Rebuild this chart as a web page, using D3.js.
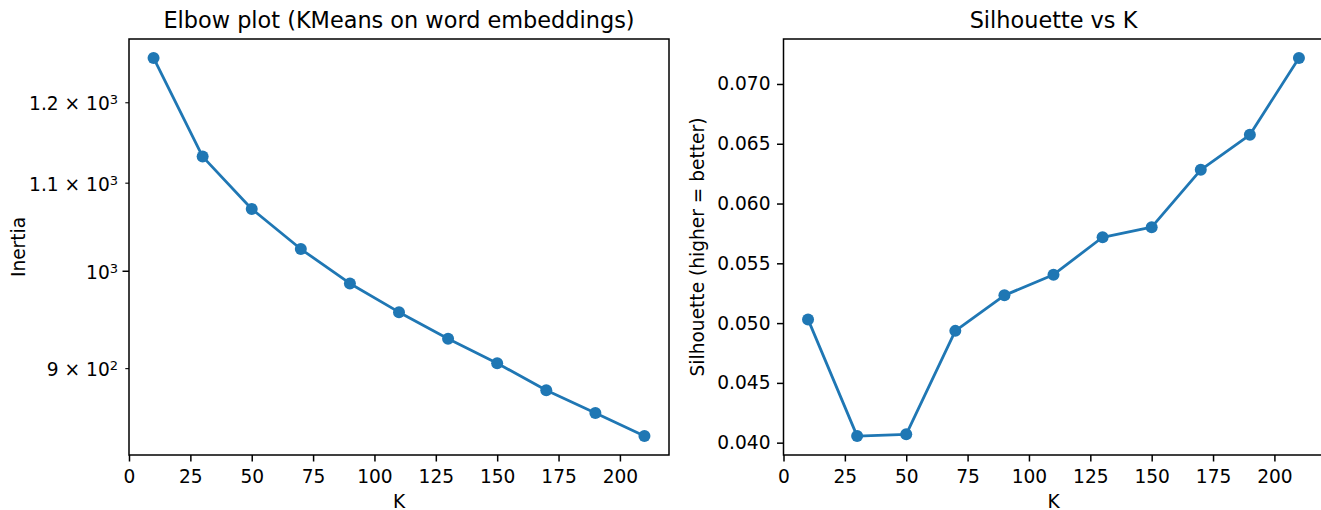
<!DOCTYPE html>
<html>
<head>
<meta charset="utf-8">
<script src="https://cdn.jsdelivr.net/npm/d3@7"></script>
<style>
body { margin: 0; background: #fff; }
svg { display: block; font-family: "DejaVu Sans", sans-serif; }
</style>
</head>
<body>
<svg id="viz"></svg>
<script>
// values
var ks = [10, 30, 50, 70, 90, 110, 130, 150, 170, 190, 210];
var inertia = [1259, 1131.5, 1069.2, 1023.8, 986.4, 956.2, 929.0, 904.8, 878.7, 857.3, 836.2];
var silhouette = [0.05031, 0.04055, 0.04070, 0.04935, 0.05232, 0.05405, 0.05718, 0.05802, 0.06282, 0.06575, 0.07218];

var kTicks = [0, 25, 50, 75, 100, 125, 150, 175, 200];
var inertiaTicks = [900, 1000, 1100, 1200];
var inertiaMajor = [1000];
var inertiaTickLabels = [["9 \u00d7 10", "2"], ["10", "3"], ["1.1 \u00d7 10", "3"], ["1.2 \u00d7 10", "3"]];
var silTicks = [0.040, 0.045, 0.050, 0.055, 0.060, 0.065, 0.070];

var width = 1321;
var height = 510;
var blue = "#1f77b4";
var fs = 18.6;

var svg = d3.select("#viz")
    .attr("width", width)
    .attr("height", height);

svg.append("rect")
    .attr("width", width)
    .attr("height", height)
    .attr("fill", "#fff");

var plotTop = 39, plotBottom = 455;

// x scales, matplotlib style 5% margin -> [0, 220]
var xLeft = d3.scaleLinear().domain([0, 220]).range([129, 669]);
var xRight = d3.scaleLinear().domain([0, 220]).range([783.5, 1323.5]);

// y scales with 5% margin
var lmin = Math.log10(d3.min(inertia)), lmax = Math.log10(d3.max(inertia));
var lpad = (lmax - lmin) * 0.05;
var yLeft = d3.scaleLog()
    .domain([Math.pow(10, lmin - lpad), Math.pow(10, lmax + lpad)])
    .range([plotBottom, plotTop]);

var smin = d3.min(silhouette), smax = d3.max(silhouette);
var spad = (smax - smin) * 0.05;
var yRight = d3.scaleLinear()
    .domain([smin - spad, smax + spad])
    .range([plotBottom, plotTop]);

function styleAxis(g) {
    g.select(".domain").remove();
    g.selectAll("line").attr("stroke", "#000").attr("stroke-width", 1.5);
    g.selectAll("text")
        .attr("fill", "#000")
        .style("font-size", fs + "px")
        .style("font-family", "DejaVu Sans");
}

function drawPanel(x, y, values, title, ylabel, ylabelX) {
    var g = svg.append("g");

    // x axis
    var xa = g.append("g")
        .attr("transform", "translate(0," + plotBottom + ")")
        .call(d3.axisBottom(x)
            .tickValues(kTicks)
            .tickSize(6.5)
            .tickPadding(6.5)
            .tickSizeOuter(0));
    styleAxis(xa);
    xa.selectAll("text").attr("dy", "0.78em");

    // line and markers
    var line = d3.line()
        .x(function (d, i) { return x(ks[i]); })
        .y(function (d) { return y(d); });

    g.append("path")
        .datum(values)
        .attr("d", line)
        .attr("fill", "none")
        .attr("stroke", blue)
        .attr("stroke-width", 2.8)
        .attr("stroke-linejoin", "round");

    g.selectAll("circle")
        .data(values)
        .enter().append("circle")
        .attr("cx", function (d, i) { return x(ks[i]); })
        .attr("cy", function (d) { return y(d); })
        .attr("r", 6)
        .attr("fill", blue);

    // frame
    g.append("rect")
        .attr("x", x.range()[0])
        .attr("y", plotTop)
        .attr("width", x.range()[1] - x.range()[0])
        .attr("height", plotBottom - plotTop)
        .attr("fill", "none")
        .attr("stroke", "#000")
        .attr("stroke-width", 1.5);

    // titles and labels
    var cx = (x.range()[0] + x.range()[1]) / 2;
    g.append("text")
        .attr("x", cx)
        .attr("y", 28)
        .attr("text-anchor", "middle")
        .style("font-size", "22.4px")
        .text(title);

    g.append("text")
        .attr("x", cx)
        .attr("y", 507.5)
        .attr("text-anchor", "middle")
        .style("font-size", fs + "px")
        .text("K");

    g.append("text")
        .attr("transform", "translate(" + ylabelX + "," + ((plotTop + plotBottom) / 2) + ") rotate(-90)")
        .attr("text-anchor", "middle")
        .style("font-size", fs + "px")
        .text(ylabel);

    return g;
}

var left = drawPanel(xLeft, yLeft, inertia, "Elbow plot (KMeans on word embeddings)", "Inertia", 24.5);
var right = drawPanel(xRight, yRight, silhouette, "Silhouette vs K", "Silhouette (higher = better)", 703.5);

// left y axis (log), labels in mathtext style
var ya = left.append("g")
    .attr("transform", "translate(" + xLeft.range()[0] + ",0)")
    .call(d3.axisLeft(yLeft)
        .tickValues(inertiaTicks)
        .tickFormat(function () { return ""; })
        .tickSize(6.5)
        .tickSizeOuter(0));
styleAxis(ya);

ya.selectAll(".tick").each(function (d, i) {
    var t = d3.select(this);
    var major = inertiaMajor.indexOf(d) >= 0;
    t.select("line")
        .attr("x2", major ? -6.5 : -3.7)
        .attr("stroke-width", major ? 1.5 : 1.1);
    var txt = t.select("text")
        .attr("x", -11)
        .attr("dy", "0.4em");
    txt.append("tspan").text(inertiaTickLabels[i][0]);
    txt.append("tspan")
        .attr("dy", -6)
        .style("font-size", "13px")
        .text(inertiaTickLabels[i][1]);
});

// right y axis
var yb = right.append("g")
    .attr("transform", "translate(" + xRight.range()[0] + ",0)")
    .call(d3.axisLeft(yRight)
        .tickValues(silTicks)
        .tickFormat(d3.format(".3f"))
        .tickSize(6.5)
        .tickPadding(6.5)
        .tickSizeOuter(0));
styleAxis(yb);
</script>
</body>
</html>
